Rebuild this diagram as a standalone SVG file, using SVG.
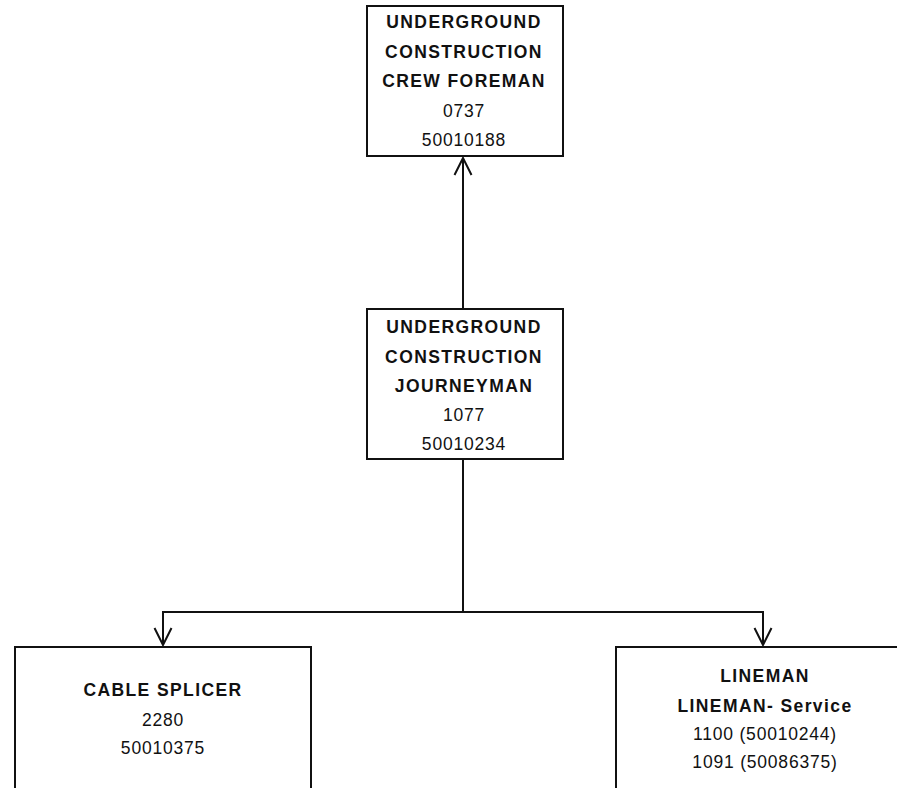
<svg xmlns="http://www.w3.org/2000/svg" width="897" height="788" viewBox="0 0 897 788">
  <style>
    .box { fill: #fff; stroke: #111; stroke-width: 2; }
    .title { font-family: "Liberation Sans", Arial, sans-serif; font-weight: bold; font-size: 17.5px; letter-spacing: 1.4px; fill: #111; text-anchor: middle; }
    .code { font-family: "Liberation Sans", Arial, sans-serif; font-size: 17.5px; letter-spacing: 0.8px; fill: #111; text-anchor: middle; }
    .wire { fill: none; stroke: #111; stroke-width: 2; }
  </style>
  <defs>
    <!-- open chevron arrowhead, tip at the end of the path -->
    <marker id="arrow" viewBox="0 0 20 20" refX="19" refY="10" markerWidth="20" markerHeight="20" markerUnits="userSpaceOnUse" orient="auto">
      <path d="M2 1.5 L19 10 L2 18.5" fill="none" stroke="#111" stroke-width="2"/>
    </marker>
  </defs>
  <rect width="897" height="788" fill="#fff"/>

  <g id="connectors">
    <!-- journeyman up to foreman -->
    <path class="wire" d="M463 308 L463 158" marker-end="url(#arrow)"/>
    <!-- journeyman down to the two trades -->
    <path class="wire" d="M463 459 L463 612"/>
    <path class="wire" d="M463 612 L163 612 L163 645" marker-end="url(#arrow)"/>
    <path class="wire" d="M463 612 L763 612 L763 645" marker-end="url(#arrow)"/>
  </g>

  <g id="foreman">
    <rect class="box" x="367" y="6" width="196" height="150"/>
    <text class="title" x="464" y="28">UNDERGROUND</text>
    <text class="title" x="464" y="58">CONSTRUCTION</text>
    <text class="title" x="464" y="87">CREW FOREMAN</text>
    <text class="code" x="464" y="117">0737</text>
    <text class="code" x="464" y="146">50010188</text>
  </g>

  <g id="journeyman">
    <rect class="box" x="367" y="309" width="196" height="150"/>
    <text class="title" x="464" y="333">UNDERGROUND</text>
    <text class="title" x="464" y="363">CONSTRUCTION</text>
    <text class="title" x="464" y="392">JOURNEYMAN</text>
    <text class="code" x="464" y="421">1077</text>
    <text class="code" x="464" y="450">50010234</text>
  </g>

  <g id="cable-splicer">
    <rect class="box" x="15" y="647" width="296" height="160"/>
    <text class="title" x="163" y="696">CABLE SPLICER</text>
    <text class="code" x="163" y="726">2280</text>
    <text class="code" x="163" y="754">50010375</text>
  </g>

  <g id="lineman">
    <rect class="box" x="616" y="647" width="300" height="160"/>
    <text class="title" x="765" y="682">LINEMAN</text>
    <text class="title" x="765" y="712">LINEMAN- Service</text>
    <text class="code" x="765" y="740">1100 (50010244)</text>
    <text class="code" x="765" y="768">1091 (50086375)</text>
  </g>
</svg>
